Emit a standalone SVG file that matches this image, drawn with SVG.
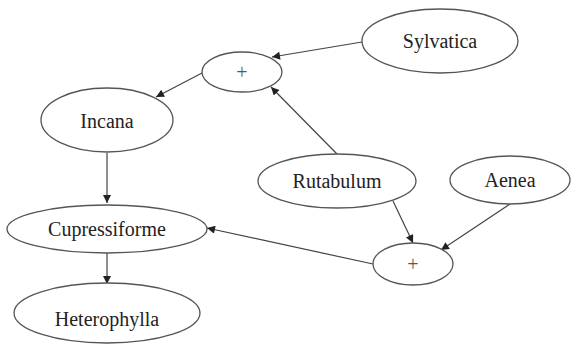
<svg xmlns="http://www.w3.org/2000/svg" width="571" height="345" viewBox="0 0 571 345">
<defs>
<marker id="arr" viewBox="0 0 10 10" refX="10" refY="5" markerWidth="9" markerHeight="8" markerUnits="userSpaceOnUse" orient="auto">
<path d="M0,0 L10,5 L0,10 z" fill="#222"/>
</marker>
<style>
.n ellipse{fill:#fff;stroke:#555;stroke-width:1.3}
.n text{font-family:"Liberation Serif","Times New Roman",serif;font-size:20px;fill:#222;text-anchor:middle}
.n text.p{font-size:20px;fill:#555}
#edges line{stroke:#444;stroke-width:1.2;marker-end:url(#arr)}
</style>
</defs>
<rect width="571" height="345" fill="#fff"/>
<g id="edges">
<line x1="362" y1="42" x2="272" y2="57"/>
<line x1="202" y1="73" x2="156" y2="97"/>
<line x1="337" y1="154" x2="271" y2="87"/>
<line x1="107" y1="153" x2="107" y2="203"/>
<line x1="393" y1="201" x2="413" y2="243"/>
<line x1="510" y1="204" x2="441" y2="250"/>
<line x1="373" y1="264" x2="207" y2="228"/>
<line x1="107" y1="253" x2="107" y2="284"/>
</g>
<g id="plus1" class="n"><ellipse cx="242" cy="72" rx="40" ry="20"/><text class="p" x="242" y="79">+</text></g>
<g id="sylvatica" class="n"><ellipse cx="440" cy="41" rx="78" ry="32"/><text x="440" y="48">Sylvatica</text></g>
<g id="incana" class="n"><ellipse cx="107" cy="120" rx="66" ry="32"/><text x="107" y="128">Incana</text></g>
<g id="rutabulum" class="n"><ellipse cx="337" cy="181" rx="79" ry="27"/><text x="337" y="188">Rutabulum</text></g>
<g id="aenea" class="n"><ellipse cx="510" cy="180" rx="60" ry="24"/><text x="510" y="187">Aenea</text></g>
<g id="plus2" class="n"><ellipse cx="413" cy="264" rx="40" ry="21"/><text class="p" x="413" y="271">+</text></g>
<g id="cupressiforme" class="n"><ellipse cx="107" cy="229" rx="100" ry="24"/><text x="107" y="236">Cupressiforme</text></g>
<g id="heterophylla" class="n"><ellipse cx="107" cy="313" rx="93" ry="30"/><text x="107" y="326">Heterophylla</text></g>
</svg>
